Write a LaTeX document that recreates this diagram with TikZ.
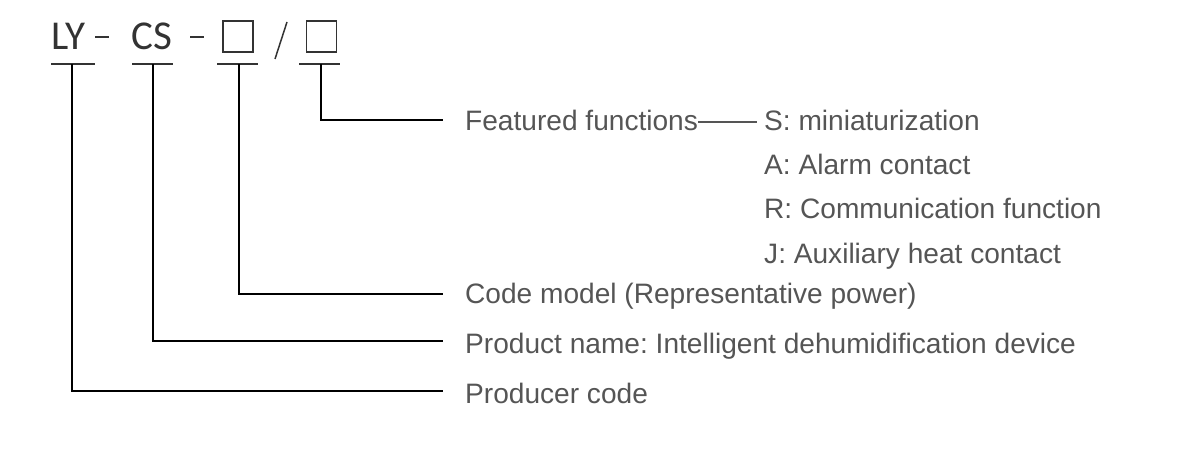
\documentclass[tikz,border=0pt]{standalone}
\usepackage{fontspec}
\setmainfont{Liberation Sans}
\newfontfamily\headfont{Carlito}
\definecolor{txt}{HTML}{555555}
\definecolor{head}{HTML}{333333}
\frenchspacing
\begin{document}
\begin{tikzpicture}[x=1pt,y=-1pt,
  lbl/.style={anchor=base west,inner sep=0pt,text=txt,font=\fontsize{28.1}{30}\selectfont},
  hd/.style={anchor=base west,inner sep=0pt,text=head,font=\headfont\fontsize{41}{44}\selectfont},
  ln/.style={line width=1.5pt,black},
  hdln/.style={line width=1.5pt,head},
  sq/.style={draw=head,line width=1.6pt,minimum width=30pt,minimum height=31pt,inner sep=0pt}]
\useasboundingbox (0,0) rectangle (1204,465);
% header
\node[hd] (ly) at (51,50) {LY};
\node[hd] (cs) at (131,50) {CS};
\node[sq] (b1) at (238,36.5) {};
\node[sq] (b2) at (321.5,36.5) {};
\draw[hdln] (95,37) -- (109,37);
\draw[hdln] (190,37) -- (204,37);
\draw[hdln] (275,59) -- (287,22);
% underlines
\coordinate (u1) at (72,64);
\coordinate (u2) at (153,64);
\coordinate (u3) at (239,64);
\coordinate (u4) at (321,64);
\draw[hdln] (51,64) -- (95,64);
\draw[hdln] (132,64) -- (173,64);
\draw[hdln] (217,64) -- (258,64);
\draw[hdln] (299,64) -- (340,64);
% labels
\node[lbl] (ff) at (465,130.5) {Featured functions};
\node[lbl] (s) at (764,130.5) {S: miniaturization};
\node[lbl] (a) at (764,174.5) {A: Alarm contact};
\node[lbl] (r) at (764,218.5) {R: Communication function};
\node[lbl] (j) at (764,263.5) {J: Auxiliary heat contact};
\node[lbl] (cm) at (465,303.5) {Code model (Representative power)};
\node[lbl] (pn) at (465,353.5) {Product name: Intelligent dehumidification device};
\node[lbl] (pc) at (465,403.5) {Producer code};
% connectors
\coordinate (e4) at (443,120);
\coordinate (e3) at (443,294);
\coordinate (e2) at (443,341);
\coordinate (e1) at (443,391);
\draw[ln] (u4) |- (e4);
\draw[ln] (u3) |- (e3);
\draw[ln] (u2) |- (e2);
\draw[ln] (u1) |- (e1);
\draw[line width=1.2pt,txt] (ff.east |- 0,122) -- (757,122);
\end{tikzpicture}
\end{document}
